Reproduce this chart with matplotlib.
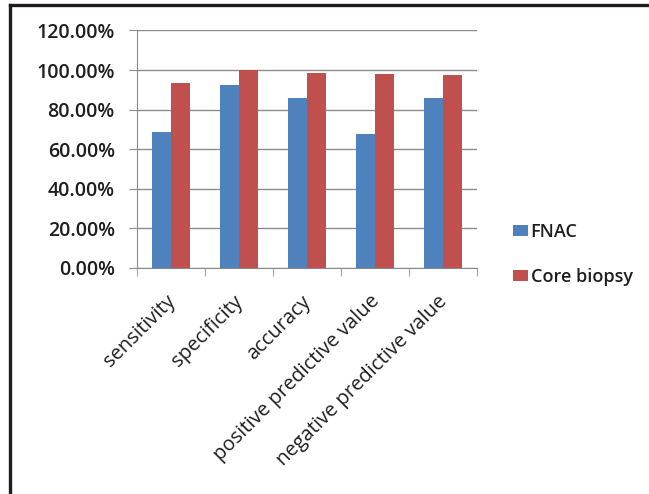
import matplotlib.pyplot as plt
import matplotlib.lines as mlines
import matplotlib.transforms as mtransforms
import numpy as np

categories = ['sensitivity', 'specificity', 'accuracy',
              'positive predictive value', 'negative predictive value']
fnac = [68.6, 92.6, 85.9, 67.9, 85.9]
core_biopsy = [93.5, 100.0, 98.3, 98.2, 97.7]
series_names = ['FNAC', 'Core biopsy']
y_ticks = [0, 20, 40, 60, 80, 100, 120]

plt.rcParams['font.family'] = ['Open Sans', 'DejaVu Sans']

fig = plt.figure(figsize=(6.49, 4.94), dpi=100)
ax = fig.add_axes([0.2106, 0.4575, 0.5239, 0.4808])

x = np.arange(len(categories))
w = 0.28
ax.bar(x - w / 2, fnac, w, color='#4F81BD', label=series_names[0], zorder=3)
ax.bar(x + w / 2, core_biopsy, w, color='#C0504D', label=series_names[1], zorder=3)

ax.set_xlim(-0.5, len(categories) - 0.5)
ax.set_ylim(0, 120)
ax.set_yticks(y_ticks)
ax.set_yticklabels([f'{v:.2f}%' for v in y_ticks], fontsize=14,
                   fontweight='semibold', color='#1e1e1e')
ax.yaxis.grid(True, color='#8c8c8c', linewidth=1.0, zorder=0)

# category labels on the centres, tick marks on the group boundaries
ax.set_xticks(x)
ax.set_xticklabels(categories, rotation=45, ha='right', va='top',
                   rotation_mode='anchor', fontsize=14.5, color='#1e1e1e')
ax.set_xticks(np.arange(-0.5, len(categories)), minor=True)
ax.tick_params(axis='x', which='major', length=0, pad=11)
ax.tick_params(axis='x', which='minor', length=5.5, color='#8c8c8c', direction='out')
ax.tick_params(axis='y', length=5.8, color='#8c8c8c', pad=10)

# nudge the slanted labels a little left and down
shift = mtransforms.ScaledTranslation(-4 / 72, -6 / 72, fig.dpi_scale_trans)
for lbl in ax.get_xticklabels():
    lbl.set_transform(lbl.get_transform() + shift)

for side in ['top', 'right']:
    ax.spines[side].set_visible(False)
for side in ['left', 'bottom']:
    ax.spines[side].set_color('#8c8c8c')

fig.legend(loc='center left', bbox_to_anchor=(0.766, 0.485), frameon=False,
           handlelength=0.8, handleheight=0.55, handletextpad=0.15,
           labelspacing=1.45, prop={'size': 13, 'weight': 'semibold'},
           labelcolor='#1e1e1e')

# frame along the top and left edges
fig.add_artist(mlines.Line2D([0.016, 1.0], [0.989, 0.989], color='#201c1c',
                             linewidth=2.4, transform=fig.transFigure))
fig.add_artist(mlines.Line2D([0.016, 0.016], [0.0, 0.989], color='#201c1c',
                             linewidth=2.4, transform=fig.transFigure))

plt.savefig('out.png', dpi=100)
